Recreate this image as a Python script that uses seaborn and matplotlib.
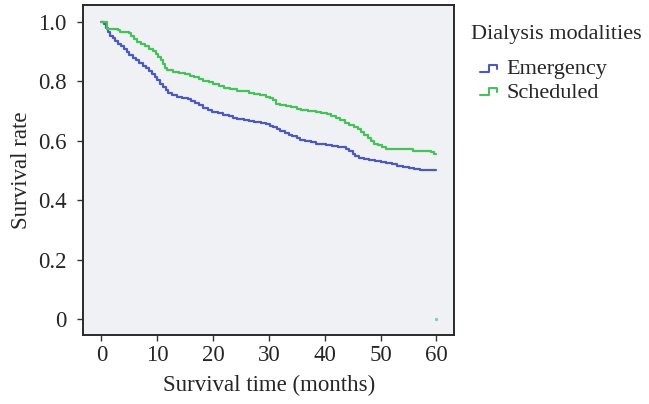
import matplotlib
matplotlib.use("Agg")
import matplotlib.pyplot as plt
from matplotlib.lines import Line2D
from matplotlib.legend_handler import HandlerLine2D
import pandas as pd
import seaborn as sns

# Kaplan-Meier curves (month, survival rate)
emergency_t = [0, 0.4, 0.8, 1.2, 1.6, 2.0, 2.5, 3.0, 3.5, 4.0, 4.5, 5.0, 5.6, 6.2, 6.8, 7.4,
               8.0, 8.5, 9.0, 9.5, 10.0, 10.5, 11.0, 11.5, 12.0, 12.7, 13.5, 14.5, 15.5,
               16.0, 16.8, 17.5, 18.2, 19.0, 19.8, 20.8, 21.8, 22.8, 23.6, 24.3, 25.5,
               26.5, 27.3, 28.5, 29.4, 30.2, 30.8, 31.5, 32.0, 32.8, 33.5, 34.2, 35.0,
               35.6, 36.5, 37.5, 38.5, 39.3, 40.3, 41.3, 42.3, 43.2, 43.8, 44.4, 45.0,
               45.5, 46.2, 47.0, 48.0, 49.0, 50.0, 51.0, 52.0, 53.0, 54.0, 55.0, 56.0,
               57.0, 58.0, 60.0]
emergency_s = [1.0, 0.99, 0.978, 0.965, 0.953, 0.943, 0.933, 0.925, 0.917, 0.908, 0.898,
               0.889, 0.878, 0.870, 0.860, 0.850, 0.843, 0.833, 0.822, 0.812, 0.802, 0.790,
               0.780, 0.770, 0.760, 0.753, 0.748, 0.744, 0.740, 0.733, 0.726, 0.718, 0.710,
               0.703, 0.697, 0.692, 0.686, 0.682, 0.677, 0.672, 0.669, 0.666, 0.663, 0.660,
               0.656, 0.650, 0.644, 0.638, 0.632, 0.627, 0.620, 0.614, 0.607, 0.601, 0.597,
               0.594, 0.590, 0.588, 0.585, 0.582, 0.580, 0.577, 0.571, 0.564, 0.556, 0.548,
               0.541, 0.538, 0.535, 0.532, 0.529, 0.525, 0.521, 0.516, 0.512, 0.508, 0.504,
               0.501, 0.500, 0.500]

scheduled_t = [0, 0.9, 3.0, 3.3, 4.9, 5.3, 5.8, 6.3, 7.0, 7.8, 8.5, 9.2, 9.7, 10.2, 10.6,
               11.0, 11.4, 11.8, 12.8, 13.8, 15.0, 15.8, 16.6, 17.4, 18.2, 19.2, 20.0,
               21.0, 22.0, 23.0, 24.2, 25.4, 26.4, 27.4, 28.4, 29.4, 30.2, 30.8, 31.3,
               32.0, 33.0, 34.0, 35.0, 35.8, 37.0, 38.4, 39.4, 40.4, 41.2, 42.0, 42.8,
               43.6, 44.4, 45.2, 45.9, 46.5, 47.1, 47.7, 48.3, 48.9, 49.5, 50.2, 51.0,
               55.3, 55.8, 59.0, 59.6, 60.0]
scheduled_s = [1.0, 0.975, 0.970, 0.964, 0.960, 0.950, 0.940, 0.932, 0.926, 0.917, 0.909,
               0.900, 0.892, 0.882, 0.870, 0.857, 0.845, 0.837, 0.832, 0.828, 0.823, 0.818,
               0.812, 0.806, 0.801, 0.797, 0.790, 0.784, 0.778, 0.772, 0.768, 0.765, 0.760,
               0.756, 0.752, 0.748, 0.743, 0.735, 0.724, 0.720, 0.717, 0.712, 0.707, 0.703,
               0.700, 0.697, 0.693, 0.689, 0.684, 0.676, 0.668, 0.660, 0.652, 0.646, 0.640,
               0.630, 0.620, 0.610, 0.600, 0.590, 0.584, 0.578, 0.573, 0.570, 0.564, 0.562,
               0.556, 0.556]

groups = ["Emergency", "Scheduled"]
colors = {"Emergency": "#4a5bbd", "Scheduled": "#45c25a"}

df = pd.concat([
    pd.DataFrame({"time": emergency_t, "surv": emergency_s, "group": "Emergency"}),
    pd.DataFrame({"time": scheduled_t, "surv": scheduled_s, "group": "Scheduled"}),
])


class StepHandler(HandlerLine2D):
    # little step glyph like the SPSS legend
    def create_artists(self, legend, orig_handle, xdescent, ydescent, width, height, fontsize, trans):
        x0 = -xdescent + width * 0.3
        x1 = -xdescent + width * 0.85
        xm = (x0 + x1) / 2
        lo, hi = height * 0.15, height * 0.6
        line = Line2D([x0, xm, xm, x1, x1], [lo, lo, hi, hi, hi - height * 0.25],
                      color=orig_handle.get_color(), lw=1.5)
        line.set_transform(trans)
        return [line]


sns.set_style("white")
plt.rcParams["font.family"] = ["Liberation Serif", "DejaVu Serif"]

fig = plt.figure(figsize=(6.49, 4.04), dpi=100)
ax = fig.add_axes([0.128, 0.171, 0.572, 0.817])
ax.set_facecolor("#f0f1f4")

sns.lineplot(data=df, x="time", y="surv", hue="group", palette=colors,
             drawstyle="steps-post", lw=1.6, ax=ax, legend=False)
ax.scatter([60], [0], s=2, color="#7fd0c0")

ax.set_xlim(-3.3, 63.2)
ax.set_ylim(-0.053, 1.056)
ax.set_xticks([0, 10, 20, 30, 40, 50, 60])
ax.set_yticks([0, 0.2, 0.4, 0.6, 0.8, 1.0])
ax.set_yticklabels(["0", "0.2", "0.4", "0.6", "0.8", "1.0"])
ax.tick_params(axis="both", direction="out", length=4, width=1, color="#333333",
               labelsize=16.5, left=True, bottom=True)
ax.tick_params(axis="y", pad=8)
ax.tick_params(axis="x", pad=3)
for s in ax.spines.values():
    s.set_color("#2a2a2a")
    s.set_linewidth(1.4)

ax.set_xlabel("Survival time (months)", fontsize=16.5, labelpad=7)
ax.set_ylabel("Survival rate", fontsize=16.5, labelpad=4)

handles = [Line2D([], [], color=colors[g]) for g in groups]
leg = ax.legend(handles, groups, title="Dialysis modalities", loc="upper left",
                bbox_to_anchor=(1.045, 0.94), frameon=False, fontsize=16, title_fontsize=16,
                handler_map={Line2D: StepHandler()}, handlelength=1.4, handletextpad=0.2,
                labelspacing=0.12, borderaxespad=0.0, borderpad=0.0)
leg._legend_box.align = "left"
leg._legend_box.sep = 11

fig.savefig("out.png", dpi=100)
